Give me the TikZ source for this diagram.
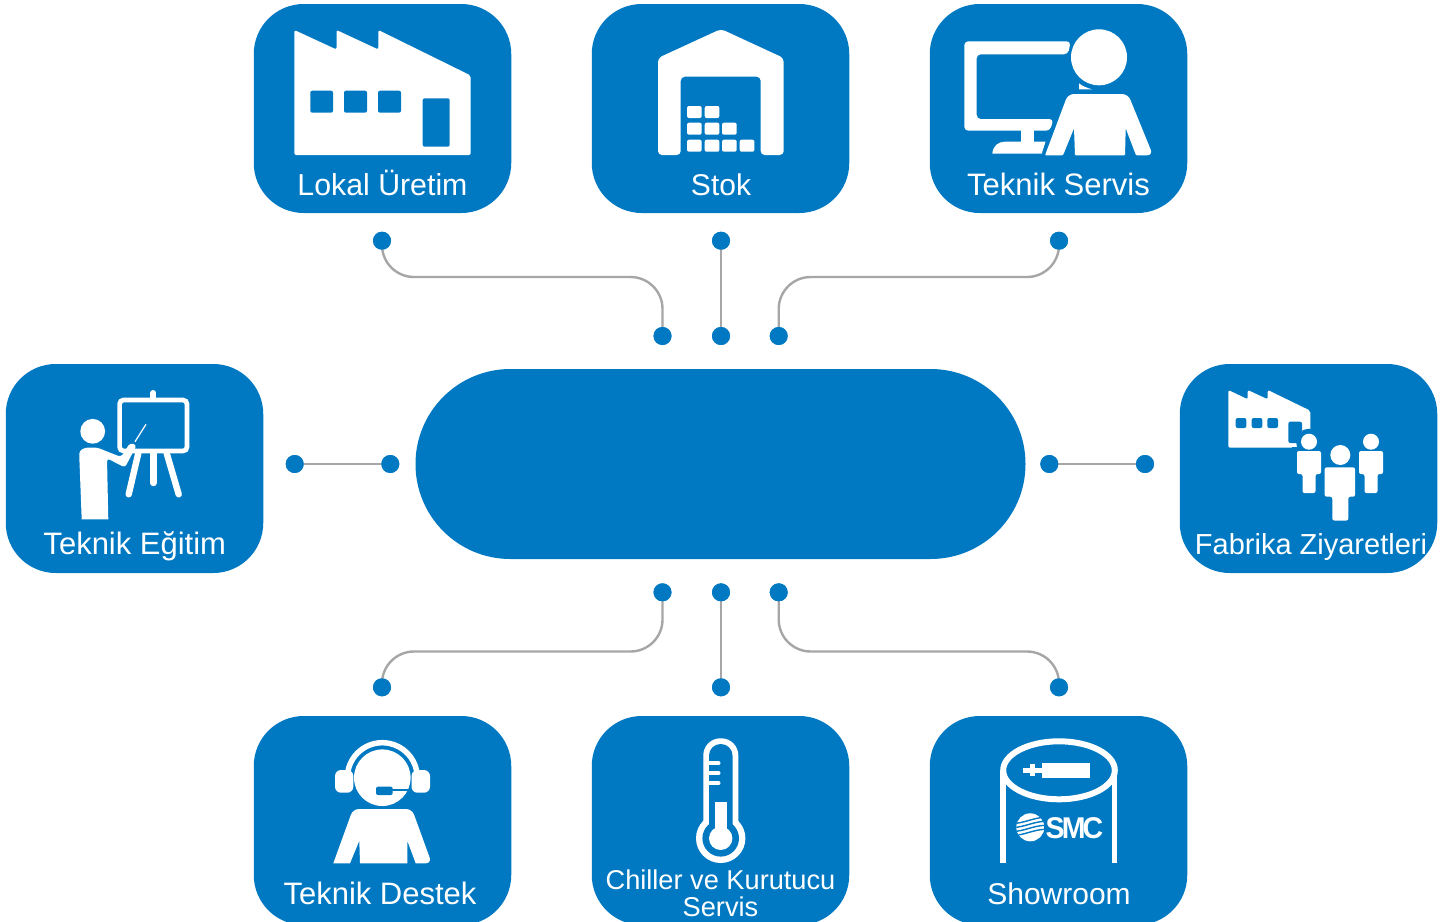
\documentclass[tikz,border=0pt]{standalone}
\usepackage{fontspec}
\setmainfont{Liberation Sans}
\definecolor{smcblue}{HTML}{0079C2}
\definecolor{linkgrey}{HTML}{A6A6A6}
\tikzset{
  tile/.style={fill=smcblue,draw=none,inner sep=0pt,outer sep=0pt,minimum width=257.5pt,minimum height=209pt,rounded corners=50pt},
  hub/.style={fill=smcblue,draw=none,inner sep=0pt,outer sep=0pt,minimum width=610pt,minimum height=190pt,rounded corners=94.9pt},
  dot/.style={circle,fill=smcblue,draw=none,inner sep=0pt,outer sep=0pt,minimum size=18pt},
  link/.style={draw=linkgrey,line width=2.4pt},
  curved/.style={link,rounded corners=32pt},
  caption/.style={text=white,anchor=base,inner sep=0pt,font=\fontsize{30}{36}\selectfont},
  widecaption/.style={text=white,anchor=base,inner sep=0pt,font=\fontsize{31}{36}\selectfont},
  tightcaption/.style={text=white,anchor=base,inner sep=0pt,font=\fontsize{29}{36}\selectfont},
  smallcaption/.style={text=white,anchor=base,inner sep=0pt,font=\fontsize{27.2}{32}\selectfont},
  ico/.style={fill=white,draw=none},
  hole/.style={fill=smcblue,draw=none},
  soft/.style={rounded corners=2pt},
  softer/.style={rounded corners=4pt},
  whiteline/.style={draw=white,line cap=round}
}
\begin{document}
\begin{tikzpicture}[x=1pt,y=-1pt]
\useasboundingbox (0,0) rectangle (1456,921);
\clip (0,0) rectangle (1456,921);

% tiles
\node[tile] (lokal) at (382.5,108.5) {};
\node[tile] (stok) at (720.5,108.5) {};
\node[tile] (servis) at (1058.5,108.5) {};
\node[tile] (egitim) at (134.5,468.5) {};
\node[tile] (fabrika) at (1308.5,468.5) {};
\node[tile] (destek) at (382.5,820.5) {};
\node[tile] (chiller) at (720.5,820.5) {};
\node[tile] (showroom) at (1058.5,820.5) {};
\node[hub] (center) at (720.5,464) {};

% dots
\node[dot] (t1a) at (382,240.7) {};
\node[dot] (t1b) at (662.5,336) {};
\node[dot] (t2a) at (721,240.7) {};
\node[dot] (t2b) at (721,336) {};
\node[dot] (t3a) at (1059,240.7) {};
\node[dot] (t3b) at (778.7,336) {};
\node[dot] (l1a) at (294.7,464) {};
\node[dot] (l1b) at (390.3,464) {};
\node[dot] (r1a) at (1049.3,464) {};
\node[dot] (r1b) at (1145,464) {};
\node[dot] (b1a) at (662.5,592.3) {};
\node[dot] (b1b) at (382,687.3) {};
\node[dot] (b2a) at (721,592.3) {};
\node[dot] (b2b) at (721,687.3) {};
\node[dot] (b3a) at (778.7,592.3) {};
\node[dot] (b3b) at (1059,687.3) {};
\coordinate (tm1) at (520,277);
\coordinate (tm3) at (920,277);
\coordinate (bm1) at (520,651.5);
\coordinate (bm3) at (920,651.5);

% connectors
\draw[curved] (t1a.center) |- (tm1) -| (t1b.center);
\draw[link] (t2a.center) -- (t2b.center);
\draw[curved] (t3a.center) |- (tm3) -| (t3b.center);
\draw[link] (l1a.center) -- (l1b.center);
\draw[link] (r1a.center) -- (r1b.center);
\draw[curved] (b1a.center) |- (bm1) -| (b1b.center);
\draw[link] (b2a.center) -- (b2b.center);
\draw[curved] (b3a.center) |- (bm3) -| (b3b.center);
\foreach \d in {t1a,t1b,t2a,t2b,t3a,t3b,l1a,l1b,r1a,r1b,b1a,b1b,b2a,b2b,b3a,b3b}
  \fill[smcblue] (\d) circle (9pt);

% factory icon
\fill[ico,soft] (294.3,155) -- (294.3,30) -- (336.5,49.5) -- (336.5,30) -- (378.3,49.5) -- (378.3,30) -- (470.7,75.5) -- (470.7,155) -- cycle;
\fill[hole,soft] (310.3,90.7) rectangle (333,112.7);
\fill[hole,soft] (344,90.7) rectangle (367,112.7);
\fill[hole,soft] (378,90.7) rectangle (401,112.7);
\fill[hole,soft] (422.7,98.3) rectangle (449.7,146.7);

% warehouse icon
\fill[ico,softer] (658,155) -- (658,58) -- (721,29) -- (783.7,58) -- (783.7,155) -- (760.7,155) -- (760.7,76.7) -- (680.7,76.7) -- (680.7,155) -- cycle;
\foreach \x/\y in {687/106,704.7/106,687/122.7,704.7/122.7,722/122.7,687/139.7,704.7/139.7,722/139.7,739.7/139.7}
  \fill[ico,soft] (\x,\y) rectangle ++(14.7,12);

% service icon
\fill[ico,softer] (1070.7,41.3) -- (964.3,41.3) -- (964.3,130.7) -- (1050,130.7) -- (1053.5,119) -- (976.7,119) -- (976.7,54.3) -- (1068,54.3) -- cycle;
\fill[ico] (1021,130) rectangle (1033.7,142);
\fill[ico] (992.3,153.7) .. controls (993,146) and (998,141.7) .. (1005,141.7) -- (1045.5,141.7) -- (1041.7,153.7) -- cycle;
\fill[ico] (1099,57.3) circle (28pt);
\fill[ico] (1079,83.3) .. controls (1082,86) and (1087,88) .. (1092,89.3) -- (1079,89.3) -- cycle;
\fill[ico] (1045,155.3) [rounded corners=6pt] -- (1068,94) -- (1128,94) -- (1153,155.3) [rounded corners=1pt] -- (1136,155.3) -- (1125.7,128.3) -- (1125,155.3) -- (1075,155.3) -- (1074,128.3) -- (1063,155.3) -- cycle;

% teaching icon
\draw[draw=white,line width=4.7pt,rounded corners=4pt] (119.6,400) rectangle (187,451);
\draw[whiteline,line width=6pt] (153.3,393) -- (153.3,398);
\draw[whiteline,line width=6.4pt] (153.3,453) -- (153.3,483);
\draw[whiteline,line width=6.4pt] (138.3,453.3) -- (128.7,494.3);
\draw[whiteline,line width=6.4pt] (166.7,453.3) -- (178.7,494.3);
\fill[ico] (92.7,431.3) circle (12.4pt);
\fill[ico] (108.3,519.3) -- (81.7,519.3) [rounded corners=3pt] -- (79.3,456.7) .. controls (79.3,450) and (84,447.5) .. (92,447.5) -- (97,447.5) -- (121,457) -- (130,443) -- (136.7,445) -- (125,467.5) -- (107,458.3) [sharp corners] -- cycle;
\draw[draw=white,line width=1.2pt] (135,441.7) -- (146,424.3);

% visit icon
\fill[ico,soft] (1228.3,447.7) -- (1228.3,390) -- (1247.7,399.3) -- (1247.7,390) -- (1267.7,399.3) -- (1267.7,390) -- (1310.3,410.7) -- (1310.3,447.7) -- cycle;
\fill[hole,soft] (1235.7,418) rectangle (1246.3,428);
\fill[hole,soft] (1251.7,418) rectangle (1262.3,428);
\fill[hole,soft] (1267.3,418) rectangle (1278,428);
\fill[hole,soft] (1288.3,421.7) rectangle (1302,443);
\fill[hole] (1309,441.7) circle (13pt);
\fill[hole] (1292,447) rectangle (1326,480);
\foreach \cx in {1309,1371}{
  \fill[ico] (\cx,441.7) circle (8pt);
  \fill[ico,soft] (\cx-12,451) -- (\cx+12,451) -- (\cx+12,474) -- (\cx+6.5,474) -- (\cx+6.5,493) -- (\cx-6.5,493) -- (\cx-6.5,474) -- (\cx-12,474) -- cycle;
}
\fill[ico] (1340.3,455) circle (10pt);
\fill[ico,soft] (1324.7,467.3) -- (1355,467.3) -- (1355,496.7) -- (1348.3,496.7) -- (1348.3,520.5) -- (1332.3,520.5) -- (1332.3,496.7) -- (1324.7,496.7) -- cycle;

% headset icon
\fill[ico] (382.3,777.7) circle (28.3pt);
\draw[draw=white,line width=5.5pt] (348,771) arc[start angle=191,end angle=349,radius=35];
\fill[ico,rounded corners=6pt] (335,770) rectangle (353.3,792.7);
\fill[ico,rounded corners=6pt] (411.5,770) rectangle (430,792.7);
\draw[draw=smcblue,line width=2pt] (392,790) -- (409,790);
\fill[hole,rounded corners=2pt] (376,786.7) rectangle (392.7,795);
\fill[ico] (333.3,863.3) [rounded corners=6pt] -- (353,809) -- (412,809) -- (431.7,863.3) [sharp corners] -- (415.7,863.3) -- (407.3,840.7) -- (407.3,863.3) -- (360,863.3) -- (359.3,840.7) -- (350,863.3) -- cycle;

% thermometer icon
\fill[ico,rounded corners=17pt] (703.3,855) rectangle (738.3,738.3);
\fill[ico] (720.7,838.3) circle (24.7pt);
\fill[hole,rounded corners=11.5pt] (709,850) rectangle (732.5,744);
\fill[hole] (720.7,838.3) circle (18.3pt);
\fill[ico] (720.7,838.3) circle (11.7pt);
\fill[ico] (715,801.7) rectangle (726.7,835);
\foreach \y in {763.3,773.3,783.3}
  \draw[draw=white,line width=4pt,line cap=round] (708,\y) -- (718.5,\y);

% showroom icon
\draw[draw=white,line width=5.7pt] (1003.3,863.3) -- (1003.3,770.3);
\draw[draw=white,line width=5.7pt] (1114.5,863.3) -- (1114.5,770.3);
\draw[draw=white,line width=6pt] (1059,770.3) ellipse[x radius=55.8pt,y radius=29pt];
\fill[ico] (1041.7,762.7) rectangle (1090,777.7);
\fill[ico] (1023.3,767.5) rectangle (1042,773);
\fill[ico] (1030,764) rectangle (1035,776);
\begin{scope}
  \clip (1030.3,827.3) circle (14pt);
  \fill[ico] (1030.3,827.3) circle (14pt);
  \foreach \dy in {-7,-3,1,5}
    \draw[draw=smcblue,line width=1.4pt] (1014,827.3+\dy+3) .. controls (1024,827.3+\dy+3) and (1034,827.3+\dy-3) .. (1046,827.3+\dy-3);
\end{scope}
\node[text=white,inner sep=0pt,anchor=base,font=\fontsize{30}{36}\bfseries\selectfont,xscale=0.95] (smc) at (1074.5,838) {S\kern-3ptM\kern-3ptC};

% captions
\node[caption,font=\fontsize{30.3}{36}\selectfont] (c1) at (382.5,195) {Lokal Üretim};
\node[caption] (c2) at (721,195) {Stok};
\node[widecaption] (c3) at (1058.5,195) {Teknik Servis};
\node[widecaption] (c4) at (134.8,554) {Teknik Eğitim};
\node[tightcaption] (c5) at (1311,554) {Fabrika Ziyaretleri};
\node[widecaption] (c6) at (380,904) {Teknik Destek};
\node[smallcaption] (c7) at (720.5,889) {Chiller ve Kurutucu};
\node[smallcaption] (c8) at (720.5,916.5) {Servis};
\node[caption] (c9) at (1059,904) {Showroom};
\end{tikzpicture}
\end{document}
